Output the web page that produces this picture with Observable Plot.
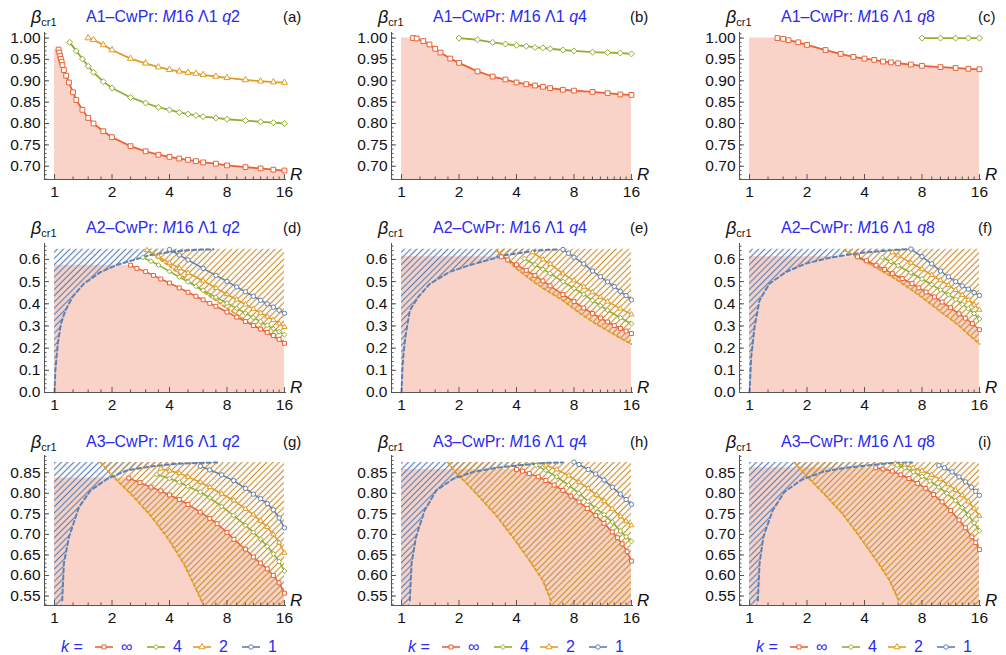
<!DOCTYPE html>
<html><head><meta charset="utf-8">
<script src="https://cdn.jsdelivr.net/npm/d3@7"></script>
<script src="https://cdn.jsdelivr.net/npm/@observablehq/plot@0.6"></script>
<style>
body{margin:0;background:#fff;font-family:"Liberation Sans",Arial,sans-serif;}
#root{position:relative;width:1006px;height:655px;overflow:hidden;background:#fff;}
.panel{position:absolute;}
#overlay{position:absolute;left:0;top:0;pointer-events:none;}
</style></head><body>
<svg width="0" height="0" style="position:absolute"><defs>
<pattern id="hatchB" patternUnits="userSpaceOnUse" width="4.4" height="4.4" patternTransform="rotate(45)"><line x1="2.2" y1="-1" x2="2.2" y2="5.4" stroke="#5E81B5" stroke-width="1.2"/></pattern>
<pattern id="hatchO" patternUnits="userSpaceOnUse" width="4.4" height="4.4" patternTransform="rotate(45)"><line x1="2.2" y1="-1" x2="2.2" y2="5.4" stroke="#C9913A" stroke-width="1.2"/></pattern>
</defs></svg>
<div id="root"></div>
<script>
// ---------- data (R, beta_cr1) ----------
const R_START = 1, R_END = 16;
const X_MAJOR = [1, 2, 4, 8, 16];
const X_MINOR = [1.25, 1.5, 1.75, 2.5, 3, 3.5, 5, 6, 7, 9, 10, 11, 12, 13, 14, 15];
const Y1_TICKS = [0.70, 0.75, 0.80, 0.85, 0.90, 0.95, 1.00];
const Y2_TICKS = [0.0, 0.1, 0.2, 0.3, 0.4, 0.5, 0.6];
const Y3_TICKS = [0.55, 0.60, 0.65, 0.70, 0.75, 0.80, 0.85];
const K_LABELS = ["∞", "4", "2", "1"];

// (a) A1 q2
const a_inf = [[1.05,.973],[1.06,.966],[1.07,.958],[1.08,.951],[1.09,.944],[1.10,.937],[1.12,.925],[1.15,.912],[1.19,.896],[1.25,.873],[1.3,.855],[1.4,.832],[1.5,.813],[1.6,.800],[1.8,.782],[2,.768],[2.5,.747],[3,.735],[3.5,.727],[4,.722],[4.5,.718],[5,.715],[5.5,.712],[6,.709],[7,.706],[8,.702],[10,.698],[12,.695],[14,.692],[16,.690]];
const a_k4 = [[1.2,.990],[1.3,.970],[1.4,.951],[1.5,.934],[1.6,.920],[1.8,.898],[2,.883],[2.5,.861],[3,.848],[3.5,.838],[4,.832],[4.5,.826],[5,.822],[5.5,.819],[6,.816],[7,.813],[8,.810],[10,.807],[12,.804],[14,.802],[16,.800]];
const a_k2 = [[1.5,1.0],[1.6,.996],[1.8,.984],[2,.972],[2.5,.952],[3,.941],[3.5,.932],[4,.926],[4.5,.922],[5,.919],[5.5,.917],[6,.914],[7,.910],[8,.907],[10,.902],[12,.899],[14,.897],[16,.896]];
// (b) A1 q4
const b_inf = [[1.15,1.0],[1.2,.999],[1.3,.993],[1.4,.985],[1.5,.975],[1.6,.966],[1.8,.952],[2,.942],[2.5,.922],[3,.910],[3.5,.903],[4,.896],[4.5,.892],[5,.889],[5.5,.886],[6,.883],[7,.879],[8,.877],[10,.874],[12,.871],[14,.868],[16,.867]];
const b_k4 = [[2,1.0],[2.5,.996],[3,.990],[3.5,.986],[4,.983],[4.5,.981],[5,.978],[5.5,.977],[6,.975],[7,.972],[8,.970],[10,.967],[12,.966],[14,.965],[16,.963]];
// (c) A1 q8
const c_inf = [[1.4,1.0],[1.5,.998],[1.6,.995],[1.8,.990],[2,.984],[2.5,.972],[3,.963],[3.5,.956],[4,.952],[4.5,.949],[5,.945],[5.5,.943],[6,.941],[7,.938],[8,.935],[10,.932],[12,.930],[14,.928],[16,.927]];
const c_k4 = [[8,1.0],[10,1.0],[12,1.0],[14,1.0],[16,1.0]];
// (d) A2 q2
const d_inf = [[2.5,.574],[2.7,.560],[3,.545],[3.3,.528],[3.6,.512],[4,.494],[4.5,.472],[5,.452],[5.5,.434],[6,.418],[6.5,.402],[7,.389],[8,.363],[9,.340],[10,.320],[11,.302],[12,.286],[13,.271],[14,.257],[15,.240],[16,.222]];
const d_k4 = [[2.9,.609],[3.2,.592],[3.5,.575],[4,.546],[4.5,.521],[5,.499],[5.5,.479],[6,.461],[7,.430],[8,.403],[9,.379],[10,.358],[11,.338],[12,.320],[13,.303],[14,.288],[15,.274],[16,.261]];
const d_k2 = [[3.05,.642],[3.5,.613],[4,.585],[4.5,.561],[5,.539],[6,.504],[7,.471],[8,.443],[9,.419],[10,.397],[11,.377],[12,.359],[13,.342],[14,.327],[15,.311],[16,.295]];
const d_k1 = [[4,.645],[4.5,.620],[5,.598],[6,.560],[7,.528],[8,.501],[9,.476],[10,.454],[11,.434],[12,.416],[13,.400],[14,.385],[15,.371],[16,.357]];
const d_blueDash = [[1,0],[1.01,.10],[1.04,.22],[1.08,.31],[1.14,.37],[1.24,.43],[1.42,.49],[1.74,.543],[2.13,.576],[2.6,.598],[3.18,.62],[4.2,.636],[5.35,.643],[6.8,.646]];
const d_k2Dash = [[3.05,.642],[3.5,.605],[4,.570],[5,.505],[6,.455],[7,.415],[8,.380],[10,.325],[12,.285],[14,.252],[16,.225]];
// (e) A2 q4
const e_inf = [[3.33,.612],[3.6,.598],[4,.576],[4.5,.551],[5,.527],[5.5,.503],[6,.481],[7,.442],[8,.410],[9,.381],[10,.357],[11,.336],[12,.318],[13,.302],[14,.289],[15,.277],[16,.266]];
const e_k4 = [[4.4,.604],[5,.576],[5.5,.556],[6,.537],[7,.500],[8,.470],[9,.443],[10,.415],[11,.392],[12,.371],[14,.337],[16,.310]];
const e_k2 = [[4.86,.632],[5.5,.600],[6,.580],[7,.536],[8,.505],[9,.477],[10,.452],[11,.430],[12,.410],[14,.378],[16,.352]];
const e_k1 = [[7,.645],[7.5,.628],[8,.610],[9,.580],[10,.548],[11,.522],[12,.499],[13,.478],[14,.456],[15,.437],[16,.418]];
const e_blueDash = [[1,0],[1.01,.10],[1.025,.18],[1.053,.264],[1.105,.37],[1.22,.43],[1.406,.49],[1.787,.544],[2.27,.574],[2.83,.597],[3.53,.62],[5.07,.64],[6.7,.646]];
const e_k2Dash = [[3.13,.642],[3.5,.605],[4,.559],[4.67,.514],[5.5,.470],[7,.415],[8.5,.360],[10.4,.310],[12.5,.270],[14,.245],[16,.219]];
// (f) A2 q8
const f_inf = [[3.68,.612],[4.1,.594],[4.6,.574],[5.1,.555],[5.6,.536],[6.3,.514],[7.1,.491],[7.7,.472],[8.4,.453],[9.3,.431],[10.2,.408],[11.3,.382],[12.5,.355],[13.5,.335],[14.7,.310],[16,.283]];
const f_k4 = [[4.97,.609],[5.5,.590],[6,.572],[7,.540],[8,.512],[9,.487],[10,.463],[11,.441],[12,.420],[13,.398],[14,.378],[15,.356],[16,.332]];
const f_k2 = [[5.6,.632],[6,.618],[7,.585],[8,.556],[9,.530],[10,.506],[11,.484],[12,.462],[13,.440],[14,.418],[15,.396],[16,.373]];
const f_k1 = [[7,.647],[8,.613],[9,.580],[10,.548],[11,.522],[12,.500],[13,.481],[14,.466],[15,.451],[16,.438]];
const f_blueDash = [[1,0],[1.02,.159],[1.062,.295],[1.128,.416],[1.27,.491],[1.554,.544],[1.977,.582],[2.51,.604],[3.2,.62],[4.07,.632],[5.6,.642],[7.0,.647]];
const f_k2Dash = [[3.13,.642],[4.07,.589],[5.6,.521],[7,.465],[8.4,.415],[10,.365],[12.5,.302],[14,.262],[16,.219]];
// (g) A3 q2
const g_inf = [[2.45,.837],[2.8,.826],[3.2,.815],[3.6,.806],[4,.796],[4.5,.785],[5,.773],[5.8,.754],[6.5,.739],[7.1,.726],[8,.705],[8.7,.688],[10,.664],[11,.645],[12,.630],[13,.616],[14,.600],[15,.582],[16,.557]];
const g_k4 = [[3.42,.846],[4,.836],[4.5,.827],[5,.817],[5.8,.803],[6.5,.789],[7.5,.768],[8.67,.746],[10,.722],[11,.705],[12,.688],[13,.671],[14,.653],[15,.634],[16,.611]];
const g_k2 = [[3.6,.860],[4,.855],[4.5,.849],[5,.840],[5.8,.827],[6.5,.815],[7.5,.799],[8.67,.783],[10,.762],[11,.748],[12,.733],[13,.718],[14,.700],[15,.680],[16,.655]];
const g_k1 = [[5.8,.866],[6.5,.857],[7.5,.845],[8.67,.831],[10,.812],[11,.798],[12,.787],[13,.775],[14,.760],[15,.740],[16,.716]];
const g_blueDash = [[1.097,.539],[1.119,.629],[1.189,.693],[1.341,.766],[1.543,.807],[1.887,.835],[2.40,.856],[3.18,.865],[4.38,.872],[5.81,.874],[7.1,.875]];
const g_k2Dash = [[1.74,.875],[1.96,.848],[2.09,.835],[2.6,.791],[3.18,.746],[3.89,.693],[4.75,.629],[5.35,.580],[5.93,.535]];
// (h) A3 q4
const h_inf = [[4,.858],[4.3,.854],[4.67,.848],[5.2,.840],[5.7,.831],[6.3,.820],[7,.807],[7.7,.793],[8.5,.779],[9.4,.763],[10.4,.746],[11.5,.727],[12.7,.706],[13.5,.692],[14.3,.677],[15.2,.658],[16,.635]];
const h_k4 = [[5.07,.868],[5.7,.856],[6.5,.840],[7.5,.820],[8.5,.800],[9.5,.780],[10.4,.763],[11.5,.748],[12.7,.730],[14,.708],[15,.694],[16,.683]];
const h_k2 = [[5.7,.868],[6.5,.858],[7.5,.843],[8.5,.827],[9.5,.812],[10.5,.796],[11.5,.781],[12.7,.762],[14,.744],[15,.732],[16,.722]];
const h_k1 = [[8,.876],[8.5,.870],[9.5,.858],[10.4,.847],[11.5,.832],[12.7,.815],[14,.798],[15,.785],[16,.773]];
const h_blueDash = [[1.105,.539],[1.128,.629],[1.19,.693],[1.32,.758],[1.52,.807],[1.86,.835],[2.37,.852],[3.13,.862],[4.31,.869],[5.7,.874],[7.0,.875]];
const h_k2Dash = [[1.75,.875],[1.98,.843],[2.1,.833],[2.56,.791],[3.13,.746],[3.83,.693],[4.67,.637],[5.49,.588],[6.06,.539]];
// (i) A3 q8
const i_inf = [[4.58,.862],[5,.859],[5.6,.854],[6.2,.845],[6.84,.836],[7.6,.824],[8.37,.812],[9.2,.797],[10.2,.779],[11.3,.758],[12.5,.735],[13.5,.716],[14.6,.694],[15.3,.680],[16,.663]];
const i_k4 = [[5.95,.868],[6.5,.862],[7.2,.852],[8,.841],[8.8,.830],[9.8,.815],[10.8,.800],[12,.782],[13,.765],[14,.747],[15,.728],[16,.709]];
const i_k2 = [[5.8,.872],[6.5,.868],[7.2,.862],[8,.855],[9,.845],[10,.834],[11,.822],[12,.808],[13,.795],[14,.780],[15,.763],[16,.745]];
const i_k1 = [[9.8,.868],[10.5,.862],[11.5,.852],[12.5,.840],[13.5,.828],[14.5,.815],[15.3,.805],[16,.795]];
const i_blueDash = [[1.105,.539],[1.128,.629],[1.18,.693],[1.32,.758],[1.52,.803],[1.86,.832],[2.41,.852],[3.19,.862],[4.4,.869],[5.6,.874],[7.1,.875]];
const i_k2Dash = [[1.72,.875],[1.98,.843],[2.51,.794],[3.07,.750],[3.75,.696],[4.58,.639],[5.38,.590],[6.0,.542]];

// ---------- layout / style ----------
const COL = {inf:"#EB6235", k4:"#8FB032", k2:"#E19C24", k1:"#5E81B5"};
const SYM = {inf:"square", k4:"diamond2", k2:"triangle", k1:"circle"};
const SYM_SCALE = {inf:1, k4:1, k2:0.85, k1:1};
const TITLE_BLUE = "#2a2af0";
const AX = "#555";
const OX = [0, 347, 695];
const ROWS = [
  {top:0,   mt:32, ph:147, y:[0.669,1.013], major:Y1_TICKS, minorStep:0.01, fmt:2, hatchTop:null, tb:22, r:2.7, sw:1.8},
  {top:210, mt:33, ph:149, y:[0,0.672],     major:Y2_TICKS, minorStep:0.02, fmt:1, hatchTop:0.646, tb:233, r:2.2, sw:1.5},
  {top:421, mt:34, ph:150, y:[0.527,0.892], major:Y3_TICKS, minorStep:0.01, fmt:2, hatchTop:0.875, tb:447, r:2.2, sw:1.5}
];
const PANELS = [
  {row:0,col:0,A:"A1",q:"2",lab:"(a)",inf:a_inf,k4:a_k4,k2:a_k2},
  {row:0,col:1,A:"A1",q:"4",lab:"(b)",inf:b_inf,k4:b_k4},
  {row:0,col:2,A:"A1",q:"8",lab:"(c)",inf:c_inf,k4:c_k4},
  {row:1,col:0,A:"A2",q:"2",lab:"(d)",inf:d_inf,k4:d_k4,k2:d_k2,k1:d_k1,bd:d_blueDash,od:d_k2Dash},
  {row:1,col:1,A:"A2",q:"4",lab:"(e)",inf:e_inf,k4:e_k4,k2:e_k2,k1:e_k1,bd:e_blueDash,od:e_k2Dash},
  {row:1,col:2,A:"A2",q:"8",lab:"(f)",inf:f_inf,k4:f_k4,k2:f_k2,k1:f_k1,bd:f_blueDash,od:f_k2Dash},
  {row:2,col:0,A:"A3",q:"2",lab:"(g)",inf:g_inf,k4:g_k4,k2:g_k2,k1:g_k1,bd:g_blueDash,od:g_k2Dash},
  {row:2,col:1,A:"A3",q:"4",lab:"(h)",inf:h_inf,k4:h_k4,k2:h_k2,k1:h_k1,bd:h_blueDash,od:h_k2Dash},
  {row:2,col:2,A:"A3",q:"8",lab:"(i)",inf:i_inf,k4:i_k4,k2:i_k2,k1:i_k1,bd:i_blueDash,od:i_k2Dash}
];
const W = 310, ML = 44, MR = 24, MB = 24, PW = W - ML - MR;
const X_DOMAIN = [0.886, 16.4];

const obj = a => a.map(([R, b]) => ({R, b}));
const root = document.getElementById("root");

for (const p of PANELS) {
  const row = ROWS[p.row];
  const y0 = row.y[0];
  const marks = [];
  const inf = obj(p.inf);
  // pink stability region under k=∞
  marks.push(Plot.areaY([{R: R_START, b: inf[0].b}, ...inf], {x:"R", y1:y0, y2:"b", fill:COL.inf, fillOpacity:0.28}));
  if (p.bd) {
    const bd = obj(p.bd);
    const poly = [{R: bd[0].R, b: y0}, ...bd, {R: bd[bd.length-1].R, b: row.hatchTop}];
    marks.push(Plot.areaX(poly, {y:"b", x1:R_START, x2:"R", fill:"url(#hatchB)"}));
  }
  if (p.od) {
    const od = obj(p.od);
    if (p.row === 1) marks.push(Plot.areaY(od, {x:"R", y1:"b", y2:row.hatchTop, fill:"url(#hatchO)"}));
    else marks.push(Plot.areaX([...od, {R: od[od.length-1].R, b: y0}], {y:"b", x1:"R", x2:R_END, fill:"url(#hatchO)"}));
    marks.push(Plot.line(od, {x:"R", y:"b", stroke:COL.k2, strokeWidth:1.8, strokeDasharray:"3,2.5"}));
  }
  if (p.bd) marks.push(Plot.line(obj(p.bd), {x:"R", y:"b", stroke:COL.k1, strokeWidth:2, strokeDasharray:"4,3"}));
  for (const k of ["k1","k2","k4","inf"]) {
    if (!p[k]) continue;
    const d = obj(p[k]);
    marks.push(Plot.line(d, {x:"R", y:"b", stroke:COL[k], strokeWidth:row.sw}));
    marks.push(Plot.dot(d, {x:"R", y:"b", symbol:SYM[k], r:row.r*SYM_SCALE[k], fill:"white", stroke:COL[k], strokeWidth:1}));
  }
  const minor = d3.range(Math.ceil(y0/row.minorStep)*row.minorStep, row.y[1], row.minorStep);
  marks.push(
    Plot.ruleX([X_DOMAIN[0]], {stroke:AX}),
    Plot.ruleY([y0], {stroke:AX}),
    Plot.tickY(minor, {y:d=>d, insetRight:PW-2.5, stroke:AX}),
    Plot.tickY(row.major, {y:d=>d, insetRight:PW-5, stroke:AX}),
    Plot.tickX(X_MINOR, {x:d=>d, insetTop:row.ph-2.5, stroke:AX}),
    Plot.tickX(X_MAJOR, {x:d=>d, insetTop:row.ph-5, stroke:AX}),
    Plot.axisY({ticks:row.major, tickSize:0, tickPadding:4, tickFormat:d=>d.toFixed(row.fmt), label:null}),
    Plot.axisX({ticks:X_MAJOR, tickSize:0, tickPadding:6, tickFormat:d=>String(d), label:null})
  );
  const svg = Plot.plot({
    width:W, height:row.mt + row.ph + MB,
    marginLeft:ML, marginRight:MR, marginTop:row.mt, marginBottom:MB,
    x:{type:"log", domain:X_DOMAIN},
    y:{domain:row.y},
    style:{fontFamily:"Liberation Sans, Arial, sans-serif", fontSize:"15.5px", color:"#111", background:"transparent", overflow:"visible"},
    marks
  });
  const div = document.createElement("div");
  div.className = "panel";
  div.style.left = OX[p.col] + "px";
  div.style.top = row.top + "px";
  div.appendChild(svg);
  root.appendChild(div);
}

// ---------- overlay: titles, axis labels, legend ----------
let s = `<svg id="overlay" width="1006" height="655" xmlns="http://www.w3.org/2000/svg" font-family="Liberation Sans, Arial, sans-serif">`;
for (const p of PANELS) {
  const row = ROWS[p.row], ox = OX[p.col];
  const tb = row.tb, ab = row.top + row.mt + row.ph;
  s += `<text x="${ox+31}" y="${tb+1}" font-size="18" font-style="italic" fill="#111">β<tspan font-size="11" font-style="normal" dy="3">cr1</tspan></text>`;
  s += `<text x="${ox+163}" y="${tb}" font-size="16" text-anchor="middle" fill="${TITLE_BLUE}">${p.A}–CwPr: <tspan font-style="italic">M</tspan>16 Λ1 <tspan font-style="italic">q</tspan>${p.q}</text>`;
  s += `<text x="${ox+283}" y="${tb}" font-size="15" fill="#111">${p.lab}</text>`;
  s += `<text x="${ox+290}" y="${ab+1}" font-size="17" font-style="italic" fill="#111">R</text>`;
}
const legY = 647;
const keys = ["inf","k4","k2","k1"];
const lx = [95, 147, 193, 242];
for (let c = 0; c < 3; c++) {
  const ox = OX[c];
  s += `<text x="${ox+61}" y="${legY+5}" font-size="16" fill="${TITLE_BLUE}"><tspan font-style="italic">k</tspan> =</text>`;
  keys.forEach((k, i) => {
    const x0 = ox + lx[i];
    s += `<line x1="${x0}" y1="${legY}" x2="${x0+18}" y2="${legY}" stroke="${COL[k]}" stroke-width="1.6"/>`;
    const symType = {inf:d3.symbolSquare, k4:d3.symbolDiamond2, k2:d3.symbolTriangle, k1:d3.symbolCircle}[k];
    s += `<path transform="translate(${x0+9},${legY})" d="${d3.symbol(symType, 16)()}" fill="white" stroke="${COL[k]}" stroke-width="1"/>`;
    s += `<text x="${x0+26}" y="${legY+5}" font-size="16" fill="${TITLE_BLUE}">${K_LABELS[i]}</text>`;
  });
}
s += `</svg>`;
root.insertAdjacentHTML("beforeend", s);
</script>
</body></html>
